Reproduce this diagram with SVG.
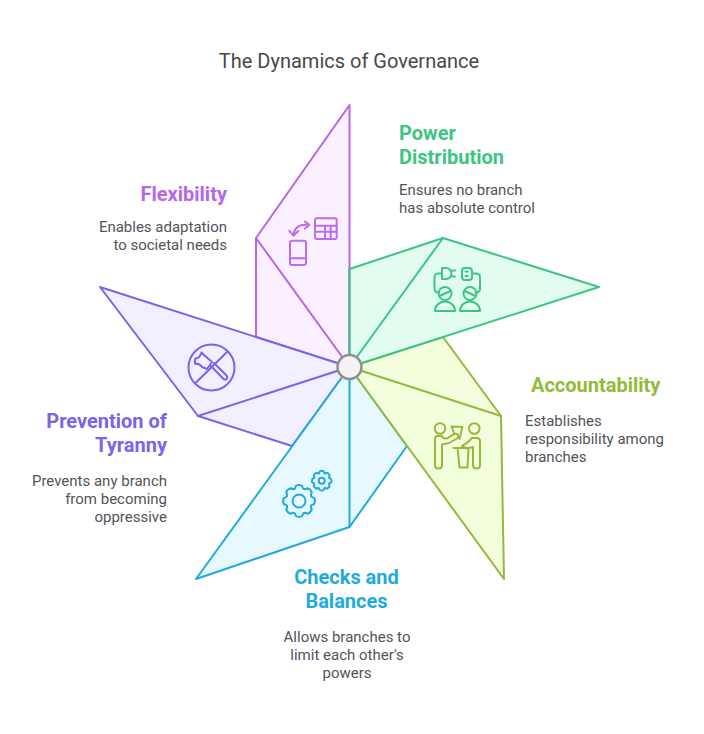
<svg xmlns="http://www.w3.org/2000/svg" xmlns:xlink="http://www.w3.org/1999/xlink" width="704" height="734" viewBox="0 0 704 734">
<style>
text{font-family:Roboto,"Liberation Sans",sans-serif}
.t{font-size:20px;fill:#484848}
.h{font-size:20px;font-weight:700}
.b{font-size:15px;fill:#53535a}
.e{text-anchor:end}
.m{text-anchor:middle}
.s{stroke-width:2;stroke-linejoin:round;stroke-linecap:round}
.i{fill:none;stroke-width:2;stroke-linejoin:round;stroke-linecap:round}
</style>
<defs>
<path id="tooth" d="M-5 -12Q-3.500 -12.500 -3.200 -15Q0 -16.800 3.200 -15Q3.500 -12.500 5 -12"/>
<g id="gear">
<use xlink:href="#tooth" href="#tooth"/>
<use xlink:href="#tooth" href="#tooth" transform="rotate(45)"/>
<use xlink:href="#tooth" href="#tooth" transform="rotate(90)"/>
<use xlink:href="#tooth" href="#tooth" transform="rotate(135)"/>
<use xlink:href="#tooth" href="#tooth" transform="rotate(180)"/>
<use xlink:href="#tooth" href="#tooth" transform="rotate(225)"/>
<use xlink:href="#tooth" href="#tooth" transform="rotate(270)"/>
<use xlink:href="#tooth" href="#tooth" transform="rotate(315)"/>
</g>
</defs>
<rect width="704" height="734" fill="#fff"/>
<text class="t m" x="349" y="68">The Dynamics of Governance</text>
<g id="connectors">
<g id="blade-flexibility" class="s" stroke="#b865e8" fill="#fbf0ff">
<path d="M349.5 367V105L256 238V337L349.5 367Z"/>
<path d="M256 238L349.5 367" fill="none"/>
</g>
<g id="blade-prevention" class="s" stroke="#7b63ea" fill="#f2f0ff">
<path d="M349.5 367L100 287L198 416L292 446Z"/>
<path d="M198 416L349.5 367" fill="none"/>
</g>
<g id="blade-checks" class="s" stroke="#1fabdc" fill="#e7f8ff">
<path d="M349.5 367L196 579L349.5 527L407 446Z"/>
<path d="M349.5 367V527" fill="none"/>
</g>
<g id="blade-accountability" class="s" stroke="#8fba3a" fill="#f3ffdc">
<path d="M349.5 367L504 579L501 416L443 337Z"/>
<path d="M349.5 367L501 416" fill="none"/>
</g>
<g id="blade-power" class="s" stroke="#3bc486" fill="#e2fdf0">
<path d="M349.5 367V269L443 238L599 287Z"/>
<path d="M349.5 367L443 238" fill="none"/>
<path d="M349.5 269V367" stroke="#5bb09a" fill="none"/>
</g>
</g>
<g id="hub"><circle cx="349.5" cy="367" r="12" fill="#f3f3f3" stroke="#8f8f8f" stroke-width="2.5"/></g>
<g id="power-distribution">
<text class="h" fill="#3cc583" x="399" y="140">Power</text>
<text class="h" fill="#3cc583" x="399" y="164">Distribution</text>
<text class="b" x="399" y="195">Ensures no branch</text>
<text class="b" x="399" y="213">has absolute control</text>
<g class="i" stroke="#3cc583">
<path d="M442 268h4a5.500 5.500 0 0 1 5.500 5.500v0a5.500 5.500 0 0 1-5.500 5.500h-4zM451.500 270.500h3.500M451.500 276.500h3.500M442 273.500h-4a3.500 3.500 0 0 0-3.500 3.500v12a3.500 3.500 0 0 0 3.500 3.500h1"/>
<rect x="462" y="268" width="10" height="12" rx="3"/>
<path d="M465.500 271.500h2M465.500 276h2M472 273.500h4.500a3.500 3.500 0 0 1 3.500 3.500v12a3.500 3.500 0 0 1-3.500 3.500h-1"/>
<circle cx="445" cy="293.500" r="6.500"/><path d="M439.500 296l11-5"/>
<circle cx="470" cy="293.500" r="6.500"/><path d="M464.500 291l11 5"/>
<path d="M435 311a10 9.500 0 0 1 20 0zM460 311a10 9.500 0 0 1 20 0z"/>
</g>
</g>
<g id="accountability">
<text class="h" fill="#93bb37" x="531" y="392">Accountability</text>
<text class="b" x="525" y="426">Establishes</text>
<text class="b" x="525" y="444">responsibility among</text>
<text class="b" x="525" y="462">branches</text>
<g class="i" stroke="#93bb37">
<circle cx="440" cy="428.500" r="5.300"/><circle cx="474.300" cy="428.500" r="5.300"/>
<path d="M435 439q0-3 3-3h4q1 3 5 2.500l7-4.500q3-1 4 1t-1 3.500l-8 4.500-7 1.500v21q0 3-3.500 3t-3.500-3z"/>
<path d="M480 440V465.500q0 3-3.500 3t-3.500-3V447l-6 1.500-5-2.500q5-3 7-5l3-3h4q4 0 4 3z"/>
<path d="M453.500 448H468M457.500 448L459.500 467.500H467.500L468.500 448"/>
<path d="M454 433L451.500 426.500L462.300 427L459.500 439"/>
</g>
</g>
<g id="checks-balances">
<text class="h m" fill="#1fabdc" x="346.500" y="584">Checks and</text>
<text class="h m" fill="#1fabdc" x="346.500" y="608">Balances</text>
<text class="b m" x="347" y="642">Allows branches to</text>
<text class="b m" x="347" y="660">limit each other's</text>
<text class="b m" x="347" y="678">powers</text>
<g class="i" stroke="#1fabdc">
<circle cx="299" cy="501" r="6.500"/>
<use xlink:href="#gear" href="#gear" transform="translate(299 501)"/>
<circle cx="321.700" cy="480.700" r="3"/>
<use xlink:href="#gear" href="#gear" transform="translate(321.700 480.700) scale(.62)" stroke-width="3.200"/>
</g>
</g>
<g id="prevention-tyranny">
<text class="h e" fill="#7b63ea" x="167" y="428">Prevention of</text>
<text class="h e" fill="#7b63ea" x="167" y="452">Tyranny</text>
<text class="b e" x="167" y="486">Prevents any branch</text>
<text class="b e" x="167" y="504">from becoming</text>
<text class="b e" x="167" y="522">oppressive</text>
<g class="i" stroke="#7b63ea">
<circle cx="211.500" cy="367.500" r="23"/>
<path d="M227 352L195.500 383"/>
<path d="M211 366L223 378.500q2 2 3.500 .5t0-3.500L214 363"/>
<path d="M201.500 352.500Q200 358 195.500 358.500Q194 361 195.500 364Q199 363 202 367L207 369L212 362L204 355Z"/>
</g>
</g>
<g id="flexibility">
<text class="h e" fill="#b865e8" x="227" y="201">Flexibility</text>
<text class="b e" x="227" y="232">Enables adaptation</text>
<text class="b e" x="227" y="250">to societal needs</text>
<g class="i" stroke="#c06ce8">
<rect x="315" y="218.300" width="21.700" height="20.700" rx="2"/>
<path d="M315 225.700h21.700M315 231.700h21.700M325 225.700v13.300M330.700 225.700v13.300"/>
<rect x="290" y="240.700" width="16" height="24.300" rx="2"/>
<path d="M290 258.300h16"/>
<path d="M309.300 225Q295 223 293.300 235.500M305 221.500l4.300 3.500-4.300 3.500M289.300 230.700l4 5 5-4.700"/>
</g>
</g>
</svg>
